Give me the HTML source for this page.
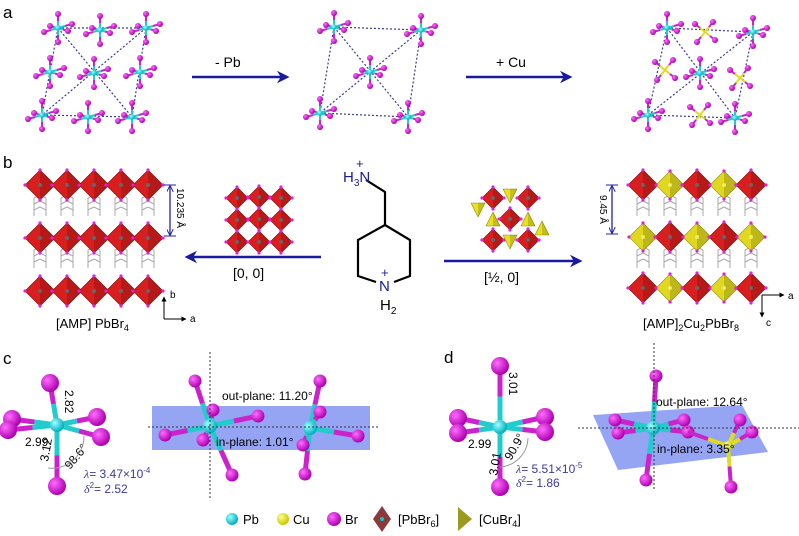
<!DOCTYPE html>
<html><head><meta charset="utf-8"><style>
html,body{margin:0;padding:0;background:#fff;width:799px;height:536px;overflow:hidden}
svg{display:block;font-family:"Liberation Sans",sans-serif}
</style></head><body>
<svg id="s" width="799" height="536" viewBox="0 0 799 536" xmlns="http://www.w3.org/2000/svg">
<defs>
<marker id="ah" viewBox="0 0 10 10" refX="8" refY="5" markerWidth="5" markerHeight="5" orient="auto"><path d="M0,0 L10,5 L0,10 L3,5 z" fill="#1a1aa0"/></marker>
<marker id="da" viewBox="0 0 10 10" refX="9" refY="5" markerWidth="5" markerHeight="5" orient="auto-start-reverse"><path d="M0,0 L10,5 L0,10" fill="none" stroke="#2222aa" stroke-width="1.5"/></marker>
<marker id="ka" viewBox="0 0 10 10" refX="9" refY="5" markerWidth="5" markerHeight="5" orient="auto"><path d="M0,0 L10,5 L0,10 z" fill="#000"/></marker>
<radialGradient id="gm" cx="35%" cy="35%" r="65%"><stop offset="0" stop-color="#ff6dff"/><stop offset="1" stop-color="#b000b0"/></radialGradient>
<radialGradient id="gc" cx="35%" cy="35%" r="65%"><stop offset="0" stop-color="#9fffff"/><stop offset="1" stop-color="#00b0c0"/></radialGradient>
<radialGradient id="gy" cx="35%" cy="35%" r="65%"><stop offset="0" stop-color="#ffff90"/><stop offset="1" stop-color="#c8c800"/></radialGradient>
</defs>
<g id="g"></g>
<g font-size="17" fill="#000">
<text x="3" y="18">a</text><text x="3" y="168">b</text><text x="3" y="364">c</text>
</g>
<text x="444" y="363" font-size="17">d</text>
<line x1="192" y1="77" x2="287" y2="77" stroke="#1a1aa0" stroke-width="2.5" marker-end="url(#ah)"/>
<text x="215" y="67" font-size="14">- Pb</text>
<line x1="466" y1="77" x2="570" y2="77" stroke="#1a1aa0" stroke-width="2.5" marker-end="url(#ah)"/>
<text x="496" y="67" font-size="14">+ Cu</text>
<line x1="321" y1="257" x2="187" y2="257" stroke="#1a1aa0" stroke-width="2.5" marker-end="url(#ah)"/>
<text x="233" y="278" font-size="14">[0, 0]</text>
<line x1="444" y1="261" x2="580" y2="261" stroke="#1a1aa0" stroke-width="2.5" marker-end="url(#ah)"/>
<text x="484" y="282" font-size="14">[½, 0]</text>
<g stroke="#000" stroke-width="2.2" fill="none">
<polyline points="366,180 385,192 385,225 410,240 410,276 394,282"/>
<polyline points="385,225 358,240 358,276 376,282"/>
</g>
<text x="343" y="182" font-size="15" fill="#1a1aa0">H<tspan font-size="10" dy="4">3</tspan><tspan dy="-4">N</tspan></text>
<text x="356" y="168" font-size="13" fill="#1a1aa0">+</text>
<text x="379" y="291" font-size="15" fill="#1a1aa0">N</text>
<text x="381" y="277" font-size="13" fill="#1a1aa0">+</text>
<text x="380" y="310" font-size="15">H<tspan font-size="10" dy="4">2</tspan></text>
<line x1="170" y1="186" x2="170" y2="235" stroke="#2222aa" stroke-width="1.3" marker-start="url(#da)" marker-end="url(#da)"/>
<line x1="164" y1="185" x2="176" y2="185" stroke="#2222aa"/><line x1="164" y1="236" x2="176" y2="236" stroke="#2222aa"/>
<text transform="translate(177,188) rotate(90)" font-size="10">10.235 Å</text>
<line x1="612" y1="186" x2="612" y2="233" stroke="#2222aa" stroke-width="1.3" marker-start="url(#da)" marker-end="url(#da)"/>
<line x1="606" y1="185" x2="618" y2="185" stroke="#2222aa"/><line x1="606" y1="234" x2="618" y2="234" stroke="#2222aa"/>
<text transform="translate(600,195) rotate(90)" font-size="10">9.45 Å</text>
<line x1="164" y1="319" x2="164" y2="297" stroke="#000" marker-end="url(#ka)"/><line x1="164" y1="319" x2="186" y2="319" stroke="#000" marker-end="url(#ka)"/>
<text x="170" y="298" font-size="10">b</text><text x="190" y="322" font-size="10">a</text>
<line x1="762" y1="295" x2="784" y2="295" stroke="#000" marker-end="url(#ka)"/><line x1="762" y1="295" x2="762" y2="317" stroke="#000" marker-end="url(#ka)"/>
<text x="788" y="299" font-size="10">a</text><text x="766" y="326" font-size="10">c</text>
<text x="56" y="328" font-size="13">[AMP] PbBr<tspan font-size="9" dy="3">4</tspan></text>
<text x="643" y="328" font-size="13">[AMP]<tspan font-size="9" dy="3">2</tspan><tspan dy="-3">Cu</tspan><tspan font-size="9" dy="3">2</tspan><tspan dy="-3">PbBr</tspan><tspan font-size="9" dy="3">8</tspan></text>
<rect x="152" y="406" width="218" height="44" fill="#7b8ff0" opacity="0.8"/>
<polygon points="593,415 742,405 768,452 618,470" fill="#7b8ff0" opacity="0.8"/>
<g id="g2"></g>
<g stroke="#333" stroke-dasharray="2,2" stroke-width="1">
<line x1="148" y1="427" x2="378" y2="427"/><line x1="210" y1="352" x2="210" y2="500"/>
<line x1="578" y1="428" x2="799" y2="428"/><line x1="654" y1="343" x2="654" y2="490"/>
</g>
<text x="222" y="400" font-size="12">out-plane: 11.20°</text>
<text x="216" y="446" font-size="12">in-plane: 1.01°</text>
<text x="656" y="406" font-size="12">out-plane: 12.64°</text>
<text x="657" y="453" font-size="12">in-plane: 3.35°</text>
<g font-size="12">
<text transform="translate(65,390) rotate(90)">2.82</text>
<text x="25" y="446">2.99</text>
<text transform="translate(48,462) rotate(-80)">3.12</text>
<text transform="translate(70,470) rotate(-50)">98.6°</text>
<text transform="translate(509,372) rotate(90)">3.01</text>
<text x="468" y="448">2.99</text>
<text transform="translate(497,476) rotate(-80)">3.01</text>
<text transform="translate(511,461) rotate(-60)">90.9°</text>
</g>
<g fill="#3a3aa0" font-size="12">
<text x="84" y="478"><tspan font-style="italic" font-family="Liberation Serif">λ</tspan>= 3.47×10<tspan font-size="8" dy="-5">-4</tspan></text>
<text x="84" y="493"><tspan font-style="italic" font-family="Liberation Serif">δ</tspan><tspan font-size="8" dy="-5">2</tspan><tspan dy="5">= 2.52</tspan></text>
<text x="516" y="473"><tspan font-style="italic" font-family="Liberation Serif">λ</tspan>= 5.51×10<tspan font-size="8" dy="-5">-5</tspan></text>
<text x="516" y="487"><tspan font-style="italic" font-family="Liberation Serif">δ</tspan><tspan font-size="8" dy="-5">2</tspan><tspan dy="5">= 1.86</tspan></text>
</g>
<path d="M48,468 A32,32 0 0 0 84,436" fill="none" stroke="#999"/>
<path d="M500,467 A30,30 0 0 0 528,438" fill="none" stroke="#999"/>
<circle cx="232" cy="519" r="6" fill="url(#gc)"/><text x="243" y="524" font-size="13">Pb</text>
<circle cx="283" cy="519" r="6" fill="url(#gy)"/><text x="293" y="524" font-size="13">Cu</text>
<circle cx="334" cy="519" r="7" fill="url(#gm)"/><text x="345" y="524" font-size="13">Br</text>
<polygon points="382,506 391,519 382,532 373,519" fill="#8a3a3a"/><circle cx="382" cy="519" r="2" fill="#0cc"/>
<text x="398" y="524" font-size="13">[PbBr<tspan font-size="9" dy="3">6</tspan><tspan dy="-3">]</tspan></text>
<polygon points="458,507 472,519 458,531" fill="#9a9a20"/>
<text x="479" y="524" font-size="13">[CuBr<tspan font-size="9" dy="3">4</tspan><tspan dy="-3">]</tspan></text>
</svg>
<script>
var NS="http://www.w3.org/2000/svg",G=document.getElementById("g"),G2=document.getElementById("g2");
function el(t,a,p){var e=document.createElementNS(NS,t);for(var k in a)e.setAttribute(k,a[k]);(p||G).appendChild(e);return e;}
function ln(x1,y1,x2,y2,c,w,p,d){var a={x1:x1,y1:y1,x2:x2,y2:y2,stroke:c,"stroke-width":w||2};if(d)a["stroke-dasharray"]=d;return el("line",a,p);}
function ball(x,y,r,f,p){el("circle",{cx:x,cy:y,r:r,fill:f},p);}
function bond(x1,y1,x2,y2,c1,c2,w,p){var mx=(x1+x2)/2,my=(y1+y2)/2;ln(x1,y1,mx,my,c1,w,p);ln(mx,my,x2,y2,c2,w,p);}
var M="url(#gm)",C="url(#gc)",Y="url(#gy)",CY="#22cccc",MG="#cc22cc",YL="#dddd22";
function octA(x,y){var arms=[[0,-14],[0,14],[-14,4],[14,-4],[-8,-2],[10,3]];arms.forEach(function(a){bond(x,y,x+a[0],y+a[1],CY,MG,2);});arms.forEach(function(a){ball(x+a[0],y+a[1],3,M);});ball(x,y,2.8,C);}
function dash(pts){for(var i=0;i<pts.length;i++)for(var j=i+1;j<pts.length;j++)ln(pts[i][0],pts[i][1],pts[j][0],pts[j][1],"#3a3a9a",1.2,G,"2,2");}
dash([[58,28],[146,28],[42,115],[132,117]]);
[[58,28],[100,30],[146,28],[50,72],[94,73],[140,72],[42,115],[88,117],[132,117]].forEach(function(p){octA(p[0],p[1]);});
var Mi=[[334,27],[421,30],[320,113],[408,117]];dash(Mi);
Mi.concat([[370,72]]).forEach(function(p){octA(p[0],p[1]);});
dash([[667,28],[753,32],[648,115],[735,118]]);
[[705,32],[665,70],[740,78],[700,115]].forEach(function(p){var x=p[0],y=p[1];[[-10,-8],[8,-10],[-8,10],[10,8]].forEach(function(a){bond(x,y,x+a[0],y+a[1],YL,MG,2);ball(x+a[0],y+a[1],3,M);});});
[[667,28],[753,32],[700,73],[648,115],[735,118]].forEach(function(p){octA(p[0],p[1]);});
function dia(x,y,h,c,sc){el("polygon",{points:(x)+","+(y-h)+" "+(x+h)+","+y+" "+x+","+(y+h)+" "+(x-h)+","+y,fill:c,stroke:sc||"#8a0000","stroke-width":0.6});el("polygon",{points:x+","+(y-h)+" "+(x+h)+","+y+" "+x+","+(y+h),fill:"rgba(0,0,0,0.15)"});ball(x,y,2,c=="#d81e1e"?"#666":"#eeee60");[[0,-h],[h,0],[0,h],[-h,0]].forEach(function(a){ball(x+a[0],y+a[1],1.6,"#e020e0");});}
function tri(x,y,h,flip){var s=flip?-1:1;el("polygon",{points:(x-h)+","+(y-h*s)+" "+(x+h)+","+(y-h*s)+" "+x+","+(y+h*s),fill:"#e8e020",stroke:"#909000","stroke-width":0.6});el("polygon",{points:x+","+(y-h*s)+" "+(x+h)+","+(y-h*s)+" "+x+","+(y+h*s),fill:"rgba(0,0,0,0.15)"});}
function org(x,y){for(var i=0;i<3;i++){var yy=y+i*6;ln(x-6,yy,x,yy-3,"#aaa",1);ln(x,yy-3,x+6,yy,"#aaa",1);ln(x-6,yy,x-6,yy+6,"#aaa",1);ln(x+6,yy,x+6,yy+6,"#aaa",1);}}
[40,67,94,121,148].forEach(function(x){org(x,198);org(x,250);});
[643,670,697,724,751].forEach(function(x){org(x,198);org(x,250);});
[185,238,291].forEach(function(y){[40,67,94,121,148].forEach(function(x){dia(x,y,15,"#d81e1e");});});
[[185,0],[237,1],[288,0]].forEach(function(r){[643,670,697,724,751].forEach(function(x,i){if((i+r[1])%2==0)dia(x,r[0],15,"#d81e1e");else dia(x,r[0],14,"#e0d820","#909000");});});
[[237,198],[259,197],[281,198],[237,220],[259,219],[281,220],[237,242],[259,242],[281,242]].forEach(function(p){dia(p[0],p[1],11,"#d81e1e");});
[[493,198],[528,198],[510,219],[493,240],[528,240]].forEach(function(p){dia(p[0],p[1],11,"#d81e1e");});
[[510,196,0],[493,219,1],[528,219,1],[510,242,0],[478,210,0],[542,228,1]].forEach(function(p){tri(p[0],p[1],7,p[2]);});
function big(x,y,arms,mc){arms.forEach(function(a){bond(x,y,a[0],a[1],CY,MG,5,G2);});arms.forEach(function(a){ball(a[0],a[1],a[2]||9,mc||M,G2);});ball(x,y,7,C,G2);}
big(57,425,[[50,383],[57,486],[12,419],[8,430],[97,417],[101,437]]);
big(210,426,[[195,381,6.5],[213,410,6.5],[165,435,6.5],[203,440,6.5],[232,475,6.5],[258,416,6.5]]);
big(310,428,[[320,381,6.5],[320,412,6.5],[358,436,6.5],[303,445,6.5],[305,474,6.5]]);
big(500,427,[[500,366],[500,487],[458,418],[458,433],[545,417],[545,432]]);
big(653,428,[[656,376,6.5],[615,420,6.5],[618,433,6.5],[684,420,6.5],[688,432,6.5],[646,480,6.5]]);
[[740,420],[752,432],[731,487]].forEach(function(a){bond(728,446,a[0],a[1],YL,MG,4,G2);ball(a[0],a[1],6.5,M,G2);});
bond(728,446,688,432,YL,MG,4,G2);ball(728,446,5,Y,G2);
</script>
</body></html>
